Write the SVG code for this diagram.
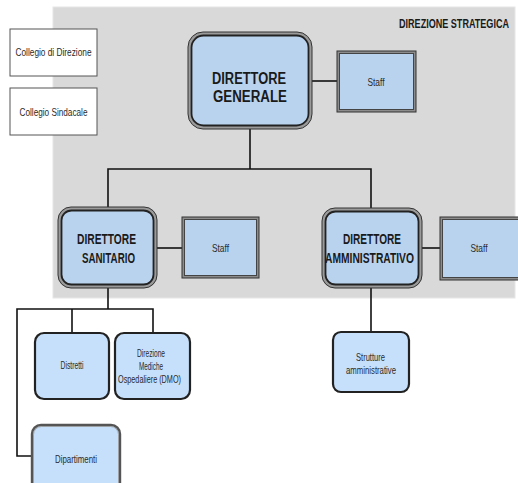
<svg xmlns="http://www.w3.org/2000/svg" width="518" height="483" viewBox="0 0 518 483">
<style>
text{font-family:"Liberation Sans",Arial,sans-serif;text-anchor:middle;fill:#1a1a1a}
.big{font-size:16px;font-weight:bold}
.mid{font-size:14px;font-weight:bold}
.sm{font-size:11px;fill:#2a2a2a}
.hdr{font-size:12px;font-weight:bold;text-anchor:end}
.conn{stroke:#111;stroke-width:1.6;fill:none}
.outer{fill:#9a9a9a;stroke:#333;stroke-width:1}
.inner{fill:#b9d3ef;stroke:#222;stroke-width:1.8}
.sfo{fill:#8c8c8c;stroke:#333;stroke-width:1}
.sfi{fill:#b9d3ef;stroke:#444;stroke-width:1}
.leaf{fill:#c6e0fb;stroke:#222;stroke-width:2.2}
.col{fill:#fff;stroke:#555;stroke-width:1}
</style>
<rect x="0" y="0" width="518" height="483" fill="#fff"/>
<rect id="bg" x="53" y="7" width="462" height="291" fill="#d9d9d9" stroke="#e6e6e6" stroke-width="1"/>
<text class="hdr" transform="translate(509,28) scale(0.755,1)" x="0" y="0">DIREZIONE STRATEGICA</text>

<g id="connectors">
<line class="conn" x1="312" y1="81" x2="337" y2="81"/>
<polyline class="conn" points="250,129 250,169"/>
<polyline class="conn" points="108,211 108,169 371,169 371,211"/>
<line class="conn" x1="157" y1="248" x2="182" y2="248"/>
<line class="conn" x1="422" y1="248" x2="440" y2="248"/>
<line class="conn" x1="371" y1="288" x2="371" y2="332"/>
<polyline class="conn" points="108,288 108,309"/>
<polyline class="conn" points="32,456 17,456 17,309 153,309 153,333"/>
<line class="conn" x1="72" y1="309" x2="72" y2="333"/>
</g>

<g id="collegio-direzione">
<rect class="col" x="10" y="29" width="87" height="47"/>
<text class="sm" x="53.5" y="56" textLength="76" lengthAdjust="spacingAndGlyphs">Collegio di Direzione</text>
</g>
<g id="collegio-sindacale">
<rect class="col" x="10" y="88" width="87" height="47"/>
<text class="sm" x="53.5" y="116" textLength="68" lengthAdjust="spacingAndGlyphs">Collegio Sindacale</text>
</g>

<g id="dg">
<rect class="outer" x="188" y="32" width="124" height="97" rx="15"/>
<rect class="inner" x="191.5" y="35.5" width="117" height="90" rx="12"/>
<text class="big" x="249" y="84" textLength="74" lengthAdjust="spacingAndGlyphs">DIRETTORE</text>
<text class="big" x="250" y="102" textLength="74" lengthAdjust="spacingAndGlyphs">GENERALE</text>
</g>
<g id="dg-staff">
<rect class="sfo" x="337" y="51" width="79" height="61"/>
<rect class="sfi" x="339.5" y="53.5" width="74" height="56"/>
<text class="sm" x="376" y="86" textLength="17" lengthAdjust="spacingAndGlyphs">Staff</text>
</g>

<g id="ds">
<rect class="outer" x="58" y="207" width="99" height="81" rx="13"/>
<rect class="inner" x="61.5" y="210.5" width="92" height="74" rx="10"/>
<text class="mid" x="106.5" y="244" textLength="59" lengthAdjust="spacingAndGlyphs">DIRETTORE</text>
<text class="mid" x="108.5" y="263" textLength="53" lengthAdjust="spacingAndGlyphs">SANITARIO</text>
</g>
<g id="ds-staff">
<rect class="sfo" x="182" y="217" width="77" height="61"/>
<rect class="sfi" x="184.5" y="219.5" width="72" height="56"/>
<text class="sm" x="220.5" y="252" textLength="17" lengthAdjust="spacingAndGlyphs">Staff</text>
</g>

<g id="da">
<rect class="outer" x="322" y="208" width="100" height="80" rx="13"/>
<rect class="inner" x="325.5" y="211.5" width="93" height="73" rx="10"/>
<text class="mid" x="372" y="244" textLength="58" lengthAdjust="spacingAndGlyphs">DIRETTORE</text>
<text class="mid" x="369.5" y="263" textLength="89" lengthAdjust="spacingAndGlyphs">AMMINISTRATIVO</text>
</g>
<g id="da-staff">
<rect class="sfo" x="440" y="217" width="82" height="63"/>
<rect class="sfi" x="442.5" y="219.5" width="77" height="58"/>
<text class="sm" x="479" y="252" textLength="17" lengthAdjust="spacingAndGlyphs">Staff</text>
</g>

<g id="distretti">
<rect class="leaf" x="35" y="333" width="74" height="66" rx="9"/>
<text class="sm" x="72" y="369" textLength="23" lengthAdjust="spacingAndGlyphs">Distretti</text>
</g>
<g id="dmo">
<rect class="leaf" x="115" y="333" width="75" height="66" rx="9"/>
<text class="sm" x="151" y="357" textLength="28" lengthAdjust="spacingAndGlyphs">Direzione</text>
<text class="sm" x="151" y="369.5" textLength="24" lengthAdjust="spacingAndGlyphs">Mediche</text>
<text class="sm" x="149.5" y="383" textLength="63" lengthAdjust="spacingAndGlyphs">Ospedaliere (DMO)</text>
</g>
<g id="dipartimenti">
<rect x="32" y="425" width="88" height="70" rx="9" fill="#c6e0fb" stroke="#555" stroke-width="2.4"/>
<rect x="33.5" y="426.5" width="85" height="67" rx="8" fill="none" stroke="#999" stroke-width="0.8"/>
<text class="sm" x="76" y="463" textLength="42" lengthAdjust="spacingAndGlyphs">Dipartimenti</text>
</g>
<g id="strutture">
<rect class="leaf" x="333" y="332" width="76" height="60" rx="8"/>
<text class="sm" x="370.5" y="361" textLength="29" lengthAdjust="spacingAndGlyphs">Strutture</text>
<text class="sm" x="371" y="374" textLength="50" lengthAdjust="spacingAndGlyphs">amministrative</text>
</g>
</svg>
